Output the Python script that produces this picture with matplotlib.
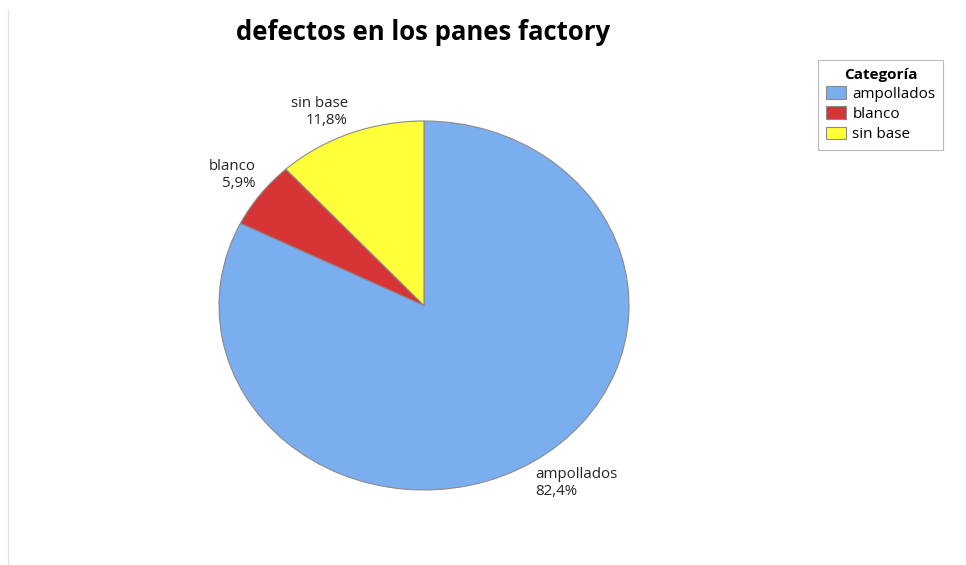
import numpy as np
import matplotlib
matplotlib.use("Agg")
import matplotlib.pyplot as plt
from matplotlib.lines import Line2D

# Datos: conteo de defectos por categoría
categorias = ["ampollados", "blanco", "sin base"]
conteos = [14, 1, 2]
colores = ["#7aaeef", "#d73535", "#ffff3a"]

plt.rcParams['font.family'] = ['Open Sans', 'DejaVu Sans']

fig = plt.figure(figsize=(9.66, 5.65), dpi=100)
fig.patch.set_facecolor("white")

# ejes elípticos, como el gráfico original
ax = fig.add_axes([219 / 966, 75 / 565, 410 / 966, 369 / 565])
wedges, _ = ax.pie(conteos, colors=colores, startangle=90, counterclock=False,
                   wedgeprops=dict(edgecolor="#8a8a8a", linewidth=0.8))
ax.set_aspect("auto")
ax.set_xlim(-1, 1)
ax.set_ylim(-1, 1)
ax.axis("off")

total = sum(conteos)
for w, cat, n in zip(wedges, categorias, conteos):
    ang = np.deg2rad((w.theta1 + w.theta2) / 2)
    x, y = np.cos(ang) * 1.03, np.sin(ang) * 1.03
    ha = "left" if x > 0 else "right"
    va = "top" if y < 0 else "bottom"
    pct = f"{100 * n / total:.1f}%".replace(".", ",")
    ax.text(x, y, f"{cat}\n{pct}", ha=ha, va=va, fontsize=10.8,
            color="#222222", linespacing=1.2, multialignment=ha)

fig.text(423 / 966, 1 - 32 / 565, "defectos en los panes factory", ha="center", va="center",
         fontsize=18.5, fontweight="bold", color="black")

leg = fig.legend(wedges, categorias, title="Categoría", loc="upper left",
                 bbox_to_anchor=(818 / 966, 1 - 60 / 565), borderaxespad=0, fontsize=11,
                 title_fontproperties={"weight": "bold", "size": 11},
                 fancybox=False, edgecolor="#aaaaaa", handlelength=1.3, handleheight=0.9,
                 handletextpad=0.45, labelspacing=0.3, borderpad=0.5)
leg.get_frame().set_linewidth(0.8)

# línea gris tenue del borde izquierdo
fig.add_artist(Line2D([8 / 966, 8 / 966], [0, 1 - 10 / 565], color="#e2e2e2", linewidth=1))

fig.savefig("out.png", dpi=100)
